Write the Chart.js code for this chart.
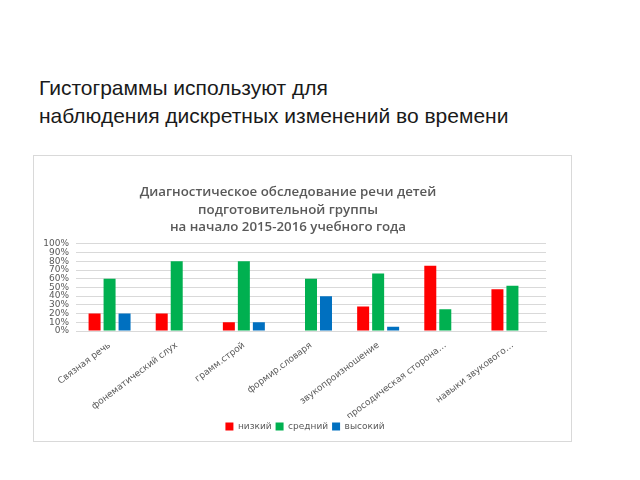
<!DOCTYPE html>
<html>
<head>
<meta charset="utf-8">
<script src="https://cdn.jsdelivr.net/npm/chart.js@4"></script>
<style>
  html, body { margin: 0; padding: 0; background: #fff; }
  body { width: 640px; height: 480px; position: relative; overflow: hidden; }
  #heading {
    position: absolute; left: 39px; top: 74px;
    font-family: "Liberation Sans", Arial, sans-serif;
    font-size: 21px; line-height: 28px; color: #1a1a1a;
  }
  #box {
    position: absolute; left: 33px; top: 155px; width: 537px; height: 285px;
    border: 1px solid #d9d9d9; background: #fff;
  }
  #box canvas { position: absolute; left: 0; top: 0; }
</style>
</head>
<body>
<div id="heading">Гистограммы используют для<br>наблюдения дискретных изменений во времени</div>
<div id="box"><canvas id="chart" width="537" height="285"></canvas></div>
<script>
// ------------------------------------------------------------
// ДАННЫЕ
// ------------------------------------------------------------
const categorias = [
  "Связная речь",
  "фонематический слух",
  "грамм.строй",
  "формир.словаря",
  "звукопроизношение",
  "просодическая сторона…",
  "навыки звукового…"
];
const nizkiy   = [0.20, 0.20, 0.10, 0.00, 0.28, 0.75, 0.48];
const sredniy  = [0.60, 0.80, 0.80, 0.60, 0.66, 0.25, 0.52];
const vysokiy  = [0.20, 0.00, 0.10, 0.40, 0.05, 0.00, 0.00];
const titulo = [
  "Диагностическое обследование речи детей",
  "подготовительной группы",
  "на начало 2015-2016 учебного года"
];

const gris = "#595959";
const fuente = "'Open Sans', 'Liberation Sans', sans-serif";
const fuenteAncha = "'DejaVu Sans', sans-serif";

// Título un poco a la izquierda y leyenda un poco a la derecha, como en el original
const ajusteCajas = {
  id: "ajusteCajas",
  afterLayout(chart) {
    if (chart.titleBlock) { chart.titleBlock.left -= 5; chart.titleBlock.right -= 5; }
    if (chart.legend) { chart.legend.left += 12; chart.legend.right += 12; }
  },
};

new Chart(document.getElementById("chart"), {
  type: "bar",
  data: {
    labels: categorias,
    datasets: [
      { label: "низкий",  data: nizkiy,  backgroundColor: "#ff0000" },
      { label: "средний", data: sredniy, backgroundColor: "#00b050" },
      { label: "высокий", data: vysokiy, backgroundColor: "#0070c0" },
    ],
  },
  plugins: [ajusteCajas],
  options: {
    responsive: false,
    animation: false,
    devicePixelRatio: 1,
    categoryPercentage: 0.67,
    barPercentage: 0.8,
    layout: { padding: { left: 6, right: 25, top: 0, bottom: 0 } },
    plugins: {
      title: {
        display: true,
        text: titulo,
        color: gris,
        font: { family: fuente, size: 13.3, weight: "600", lineHeight: 1.3 },
        padding: { top: 28, bottom: 8 },
      },
      legend: {
        position: "bottom",
        labels: {
          color: gris,
          font: { family: fuenteAncha, size: 9 },
          boxWidth: 8, boxHeight: 8, padding: 4,
        },
      },
      tooltip: { enabled: false },
    },
    scales: {
      x: {
        grid: { display: false },
        border: { color: "#d9d9d9" },
        afterFit: (scale) => { scale.height = 87; },
        ticks: {
          color: gris, font: { family: fuenteAncha, size: 9 },
          minRotation: 37, maxRotation: 37, autoSkip: false, padding: 1,
        },
      },
      y: {
        min: 0, max: 1,
        afterFit: (scale) => { scale.width = 36; },
        grid: { color: "#d9d9d9", drawTicks: false },
        border: { display: false },
        ticks: {
          stepSize: 0.1, autoSkip: false, padding: 7,
          color: gris, font: { family: fuenteAncha, size: 9, lineHeight: 1 },
          callback: (v) => Math.round(v * 100) + "%",
        },
      },
    },
  },
});
</script>
</body>
</html>
